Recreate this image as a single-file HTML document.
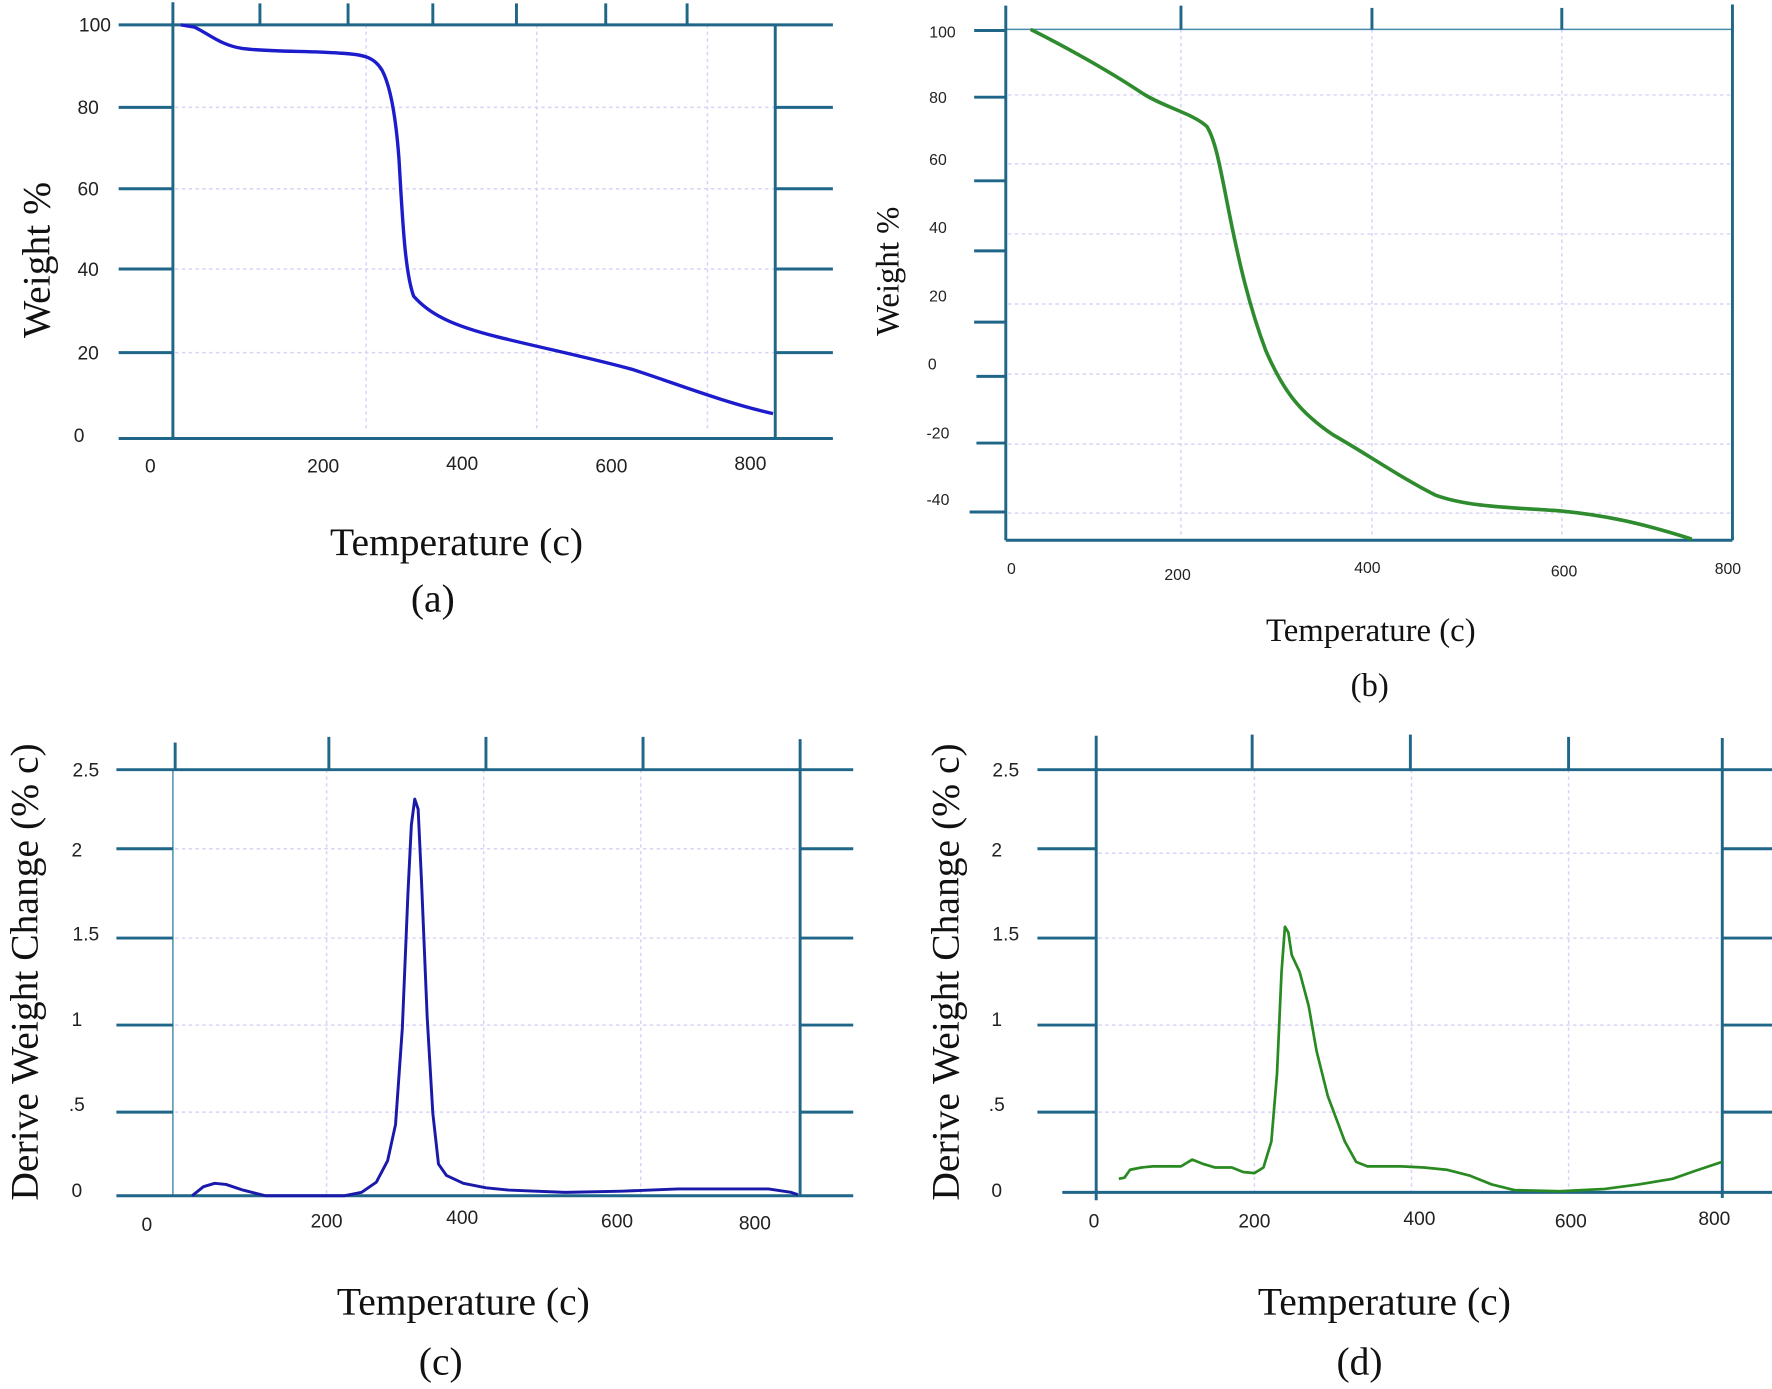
<!DOCTYPE html>
<html><head><meta charset="utf-8"><style>
html,body{margin:0;padding:0;background:#fff;}
svg{display:block;}
.ax{stroke:#1f6688;stroke-width:2.6;fill:none;}
.thin{stroke:#4a8cae;stroke-width:1.3;fill:none;}
.grid{stroke:#d9d2f7;stroke-width:1.3;stroke-dasharray:3 3;fill:none;}
.tk{font-family:"Liberation Sans",sans-serif;font-size:17px;fill:#222;}
.tkb{font-family:"Liberation Sans",sans-serif;font-size:14px;fill:#222;}
.lab{font-family:"Liberation Serif",serif;font-size:35px;fill:#111;}
.labb{font-family:"Liberation Serif",serif;font-size:29px;fill:#111;}
</style></head><body>
<svg width="1772" height="1389" viewBox="0 0 1568 1229" preserveAspectRatio="none" xmlns="http://www.w3.org/2000/svg">
<!-- Panel A -->
<g>
<line class="grid" x1="155" y1="95" x2="686" y2="95"/>
<line class="grid" x1="155" y1="167" x2="686" y2="167"/>
<line class="grid" x1="155" y1="238" x2="686" y2="238"/>
<line class="grid" x1="155" y1="312" x2="686" y2="312"/>
<line class="grid" x1="324" y1="22" x2="324" y2="380"/>
<line class="grid" x1="475" y1="22" x2="475" y2="380"/>
<line class="grid" x1="626" y1="22" x2="626" y2="380"/>
<line class="ax" x1="105" y1="22" x2="737" y2="22"/>
<line class="ax" x1="105" y1="388" x2="737" y2="388"/>
<line class="ax" x1="153" y1="2" x2="153" y2="388"/>
<line class="ax" x1="686" y1="22" x2="686" y2="388"/>
<g class="ax">
<line x1="230" y1="3" x2="230" y2="22"/><line x1="308" y1="3" x2="308" y2="22"/><line x1="383" y1="3" x2="383" y2="22"/><line x1="457" y1="3" x2="457" y2="22"/><line x1="536" y1="3" x2="536" y2="22"/><line x1="608" y1="3" x2="608" y2="22"/>
<line x1="105" y1="95" x2="153" y2="95"/><line x1="105" y1="167" x2="153" y2="167"/><line x1="105" y1="238" x2="153" y2="238"/><line x1="105" y1="312" x2="153" y2="312"/>
<line x1="686" y1="95" x2="737" y2="95"/><line x1="686" y1="167" x2="737" y2="167"/><line x1="686" y1="238" x2="737" y2="238"/><line x1="686" y1="312" x2="737" y2="312"/>
</g>
<g class="tk" text-anchor="middle">
<text x="84" y="28">100</text><text x="78" y="101">80</text><text x="78" y="173">60</text><text x="78" y="244">40</text><text x="78" y="318">20</text><text x="70" y="391">0</text>
<text x="133" y="418">0</text><text x="286" y="418">200</text><text x="409" y="416">400</text><text x="541" y="418">600</text><text x="664" y="416">800</text>
</g>
<path d="M160,22 L172,24 C185,30 195,40 215,43 C240,46 275,45 300,47 C325,48 332,52 338,62 C345,75 350,100 353,140 C356,190 358,240 366,262 C380,278 400,288 440,298 C480,308 520,316 560,327 C600,340 640,356 684,366" stroke="#1c1ccc" stroke-width="3" fill="none"/>
<text class="lab" transform="translate(44,230) rotate(-90)" text-anchor="middle">Weight %</text>
<text class="lab" x="404" y="491" text-anchor="middle">Temperature (c)</text>
<text class="lab" x="383" y="541" text-anchor="middle">(a)</text>
</g>
<!-- Panel B -->
<g>
<line class="grid" x1="892" y1="84" x2="1532" y2="84"/>
<line class="grid" x1="892" y1="145" x2="1532" y2="145"/>
<line class="grid" x1="892" y1="207" x2="1532" y2="207"/>
<line class="grid" x1="892" y1="269" x2="1532" y2="269"/>
<line class="grid" x1="892" y1="331" x2="1532" y2="331"/>
<line class="grid" x1="892" y1="393" x2="1532" y2="393"/>
<line class="grid" x1="892" y1="454" x2="1532" y2="454"/>
<line class="grid" x1="1045" y1="26" x2="1045" y2="476"/>
<line class="grid" x1="1214" y1="26" x2="1214" y2="476"/>
<line class="grid" x1="1382" y1="26" x2="1382" y2="476"/>
<line class="thin" x1="890" y1="26" x2="1533" y2="26"/>
<line class="ax" x1="890" y1="5" x2="890" y2="478"/>
<line class="ax" x1="1533" y1="4" x2="1533" y2="478"/>
<line class="ax" x1="890" y1="478" x2="1533" y2="478"/>
<g class="ax">
<line x1="1045" y1="5" x2="1045" y2="26"/><line x1="1214" y1="7" x2="1214" y2="26"/><line x1="1382" y1="7" x2="1382" y2="26"/>
<line x1="862" y1="27" x2="890" y2="27"/><line x1="862" y1="86" x2="890" y2="86"/><line x1="862" y1="160" x2="890" y2="160"/><line x1="862" y1="222" x2="890" y2="222"/><line x1="862" y1="285" x2="890" y2="285"/><line x1="864" y1="333" x2="890" y2="333"/><line x1="864" y1="392" x2="890" y2="392"/><line x1="858" y1="453" x2="890" y2="453"/>
</g>
<g class="tkb" text-anchor="middle">
<text x="834" y="33">100</text><text x="830" y="91">80</text><text x="830" y="146">60</text><text x="830" y="206">40</text><text x="830" y="267">20</text><text x="825" y="327">0</text><text x="830" y="388">-20</text><text x="830" y="447">-40</text>
<text x="895" y="508">0</text><text x="1042" y="513">200</text><text x="1210" y="507">400</text><text x="1384" y="510">600</text><text x="1529" y="508">800</text>
</g>
<path d="M912,26 C940,40 980,62 1010,82 C1030,95 1055,100 1068,112 C1076,125 1080,150 1088,190 C1096,230 1105,270 1120,310 C1135,345 1150,365 1180,385 C1210,402 1240,423 1270,438 C1300,449 1340,449 1380,452 C1420,456 1450,462 1497,477" stroke="#2e8b2e" stroke-width="3.2" fill="none"/>
<text class="labb" transform="translate(795,240) rotate(-90)" text-anchor="middle">Weight %</text>
<text class="labb" x="1213" y="567" text-anchor="middle">Temperature (c)</text>
<text class="labb" x="1212" y="616" text-anchor="middle">(b)</text>
</g>
<!-- Panel C -->
<g>
<line class="grid" x1="155" y1="751" x2="706" y2="751"/>
<line class="grid" x1="155" y1="830" x2="706" y2="830"/>
<line class="grid" x1="155" y1="907" x2="706" y2="907"/>
<line class="grid" x1="155" y1="984" x2="706" y2="984"/>
<line class="grid" x1="289" y1="681" x2="289" y2="1058"/>
<line class="grid" x1="428" y1="681" x2="428" y2="1058"/>
<line class="grid" x1="567" y1="681" x2="567" y2="1058"/>
<line class="thin" x1="153" y1="681" x2="153" y2="1058"/>
<line class="ax" x1="103" y1="681" x2="755" y2="681"/>
<line class="ax" x1="103" y1="1058" x2="755" y2="1058"/>
<line class="ax" x1="708" y1="654" x2="708" y2="1058"/>
<g class="ax">
<line x1="155" y1="657" x2="155" y2="681"/><line x1="291" y1="652" x2="291" y2="681"/><line x1="430" y1="652" x2="430" y2="681"/><line x1="569" y1="652" x2="569" y2="681"/>
<line x1="103" y1="751" x2="153" y2="751"/><line x1="103" y1="830" x2="153" y2="830"/><line x1="103" y1="907" x2="153" y2="907"/><line x1="103" y1="984" x2="153" y2="984"/>
<line x1="708" y1="751" x2="755" y2="751"/><line x1="708" y1="830" x2="755" y2="830"/><line x1="708" y1="907" x2="755" y2="907"/><line x1="708" y1="984" x2="755" y2="984"/>
</g>
<g class="tk" text-anchor="middle">
<text x="76" y="687">2.5</text><text x="68" y="758">2</text><text x="76" y="832">1.5</text><text x="68" y="908">1</text><text x="68" y="983">.5</text><text x="68" y="1059">0</text>
<text x="130" y="1089">0</text><text x="289" y="1086">200</text><text x="409" y="1083">400</text><text x="546" y="1086">600</text><text x="668" y="1088">800</text>
</g>
<path d="M170,1058 L180,1050 L190,1047 L200,1048 L215,1053 L235,1058 L305,1058 L320,1055 L333,1046 L343,1027 L350,995 L356,910 L361,790 L364,730 L367,707 L370,716 L373,780 L378,900 L383,985 L388,1030 L395,1040 L410,1047 L430,1051 L450,1053 L500,1055 L550,1054 L600,1052 L680,1052 L700,1055 L706,1057" stroke="#1a1aaa" stroke-width="2.6" fill="none" stroke-linejoin="round"/>
<text class="lab" transform="translate(33,860) rotate(-90)" text-anchor="middle">Derive Weight Change (% c)</text>
<text class="lab" x="410" y="1163" text-anchor="middle">Temperature (c)</text>
<text class="lab" x="390" y="1216" text-anchor="middle">(c)</text>
</g>
<!-- Panel D -->
<g>
<line class="grid" x1="972" y1="755" x2="1522" y2="755"/>
<line class="grid" x1="972" y1="830" x2="1522" y2="830"/>
<line class="grid" x1="972" y1="907" x2="1522" y2="907"/>
<line class="grid" x1="972" y1="984" x2="1522" y2="984"/>
<line class="grid" x1="1110" y1="681" x2="1110" y2="1055"/>
<line class="grid" x1="1249" y1="681" x2="1249" y2="1055"/>
<line class="grid" x1="1388" y1="681" x2="1388" y2="1055"/>
<line class="ax" x1="918" y1="681" x2="1568" y2="681"/>
<line class="ax" x1="940" y1="1055" x2="1568" y2="1055"/>
<line class="ax" x1="970" y1="651" x2="970" y2="1062"/>
<line class="ax" x1="1524" y1="653" x2="1524" y2="1060"/>
<g class="ax">
<line x1="1108" y1="650" x2="1108" y2="681"/><line x1="1248" y1="650" x2="1248" y2="681"/><line x1="1388" y1="652" x2="1388" y2="681"/>
<line x1="918" y1="751" x2="970" y2="751"/><line x1="918" y1="830" x2="970" y2="830"/><line x1="918" y1="907" x2="970" y2="907"/><line x1="918" y1="984" x2="970" y2="984"/>
<line x1="1524" y1="751" x2="1568" y2="751"/><line x1="1524" y1="830" x2="1568" y2="830"/><line x1="1524" y1="907" x2="1568" y2="907"/><line x1="1524" y1="984" x2="1568" y2="984"/>
</g>
<g class="tk" text-anchor="middle">
<text x="890" y="687">2.5</text><text x="882" y="758">2</text><text x="890" y="832">1.5</text><text x="882" y="908">1</text><text x="882" y="983">.5</text><text x="882" y="1059">0</text>
<text x="968" y="1086">0</text><text x="1110" y="1086">200</text><text x="1256" y="1084">400</text><text x="1390" y="1086">600</text><text x="1517" y="1084">800</text>
</g>
<path d="M990,1043 L995,1042 L1000,1035 L1010,1033 L1020,1032 L1045,1032 L1055,1026 L1065,1030 L1075,1033 L1090,1033 L1100,1037 L1110,1038 L1118,1033 L1125,1010 L1130,950 L1134,860 L1137,820 L1140,825 L1143,845 L1150,860 L1158,890 L1165,930 L1175,970 L1190,1010 L1200,1028 L1210,1032 L1240,1032 L1260,1033 L1280,1035 L1300,1040 L1320,1048 L1340,1053 L1380,1054 L1400,1053 L1420,1052 L1450,1048 L1480,1043 L1500,1036 L1524,1028" stroke="#2a8a22" stroke-width="2.4" fill="none" stroke-linejoin="round"/>
<text class="lab" transform="translate(848,860) rotate(-90)" text-anchor="middle">Derive Weight Change (% c)</text>
<text class="lab" x="1225" y="1163" text-anchor="middle">Temperature (c)</text>
<text class="lab" x="1203" y="1216" text-anchor="middle">(d)</text>
</g>
</svg>
</body></html>
